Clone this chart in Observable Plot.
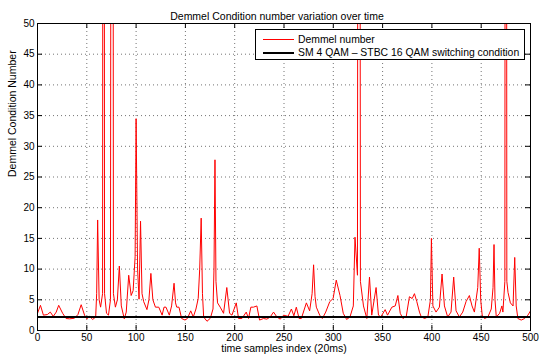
<!DOCTYPE html>
<html><head><meta charset="utf-8">
<script src="https://cdn.jsdelivr.net/npm/d3@7"></script>
<script src="https://cdn.jsdelivr.net/npm/@observablehq/plot@0.6"></script>
<style>
body{margin:0;background:#fff;font-family:"Liberation Sans",Arial,Helvetica,sans-serif;}
#wrap{position:relative;width:539px;height:357px;overflow:hidden;}
#legend{position:absolute;left:255px;top:29px;width:268px;height:29px;border:1px solid #000;background:#fff;font-size:10.4px;color:#000;}
#legend .row{position:absolute;left:0;height:13px;line-height:13px;white-space:nowrap;}
#legend .sw{position:absolute;left:7px;width:31px;}
#legend .tx{position:absolute;left:42px;top:0;}
</style></head><body><div id="wrap"></div>
<script>
// ---- data ----
const sampleIndex = [0,3,6,10,13,16,19,21.5,25.5,29,32.5,37.5,41,44.3,47.7,50,52.7,56,59,60,61,62.5,64,66,67,68,70,72,74,75.8,77,79,81,83,85,88,90,92.5,95,97,99,100,101.5,103,104.5,106,107.7,111,113,115,117,119.6,123,126.4,128.3,130.3,133.7,136,138.5,140,141.2,143.5,146.2,149.6,152,155.4,158,160.7,163,164.5,166,167.3,168.5,171.9,175.3,178,179,180,181,182.6,185.3,188.7,192,194.8,197.2,201.6,203.9,207.3,211.7,214,216.4,219,222.5,225.2,229.2,232.6,236,239.4,242.8,246.2,249.6,254.1,257.5,260,262.5,265.3,267.6,272.7,276,278.5,280,281.5,282.8,286.2,288.9,292.3,296.4,299.8,303,306.8,310.1,313.5,316.9,320.3,322,324.5,326,327.5,330.6,334,336.7,339,343.4,345.8,348.2,352.6,355,359.4,362.8,365.5,367.9,370.6,374,377.2,380,382.3,384.7,387.4,389,392.5,395.9,398.5,399.5,401,404.2,407.6,410.3,412.7,416,419.4,422.1,424.5,427.9,431.3,434.6,438,440.7,443.1,446.5,448,449.5,451,453.4,456.8,460.2,462,463,464,465.3,468.7,471,472,474,475,476,477.2,479.6,482.3,484,485.5,487.2,490.6,494,497.4,500];
const demmelNumber = [2.8,4.1,2.5,2.6,3.0,2.3,3.0,4.1,2.8,1.95,1.9,2.0,2.6,4.2,2.5,1.9,2.3,1.8,2.2,6,18,5,3.8,6,300,6,2.8,2.5,5,300,6,3.8,5,10.5,4,1.9,3,9,5.7,6.5,12,34.5,10,5.1,17.8,6,4.7,3.4,5,9.3,5,3.8,3.8,2.5,3.8,3.8,2.5,4,7.7,4.5,3.8,3.8,1.95,1.7,1.95,3.2,2.2,3.5,5.2,10,18.3,6,2.2,1.5,2.0,3.5,10,27.8,8,4.5,3.8,2.8,7.0,2.8,2.5,4.5,1.95,1.95,3.0,1.95,3.8,3.8,4.0,1.7,1.95,1.85,2.2,3.0,2.2,1.85,2.5,2.3,3.5,2.4,3.8,1.95,1.95,4.5,3.2,6,10.7,5.5,3.8,2.5,1.95,3.0,4.7,5.2,8.2,5.7,2.8,1.8,2.2,4.0,15.2,9,300,8,4.0,1.95,8.7,2.5,7.0,2.5,2.2,3.4,2.5,3.8,4.0,5.7,2.8,1.95,2.3,5.5,5.2,6.0,4.7,3.0,2.3,1.95,2.2,5,15,4,3.0,3.8,9.2,4.0,2.2,3.0,8.7,3.2,2.2,3.0,4.7,5.7,4.0,3.0,7.0,13.4,5,2.5,1.95,2.2,3.5,7,14,5,2.2,2.8,4.0,3.0,8,300,8,6.2,4.5,4.0,11.9,4,1.95,1.7,1.95,2.5,3.2];
const switchingCondition = [2.2];
const xTicks = [0,50,100,150,200,250,300,350,400,450,500];
const yTicks = [0,5,10,15,20,25,30,35,40,45,50];
const titleText = "Demmel Condition number variation over time";
const xLabel = "time samples index (20ms)";
const yLabel = "Demmel Condition Number";
const seriesNames = ["Demmel number", "SM 4 QAM \u2013 STBC 16 QAM switching condition"];

// ---- chart ----
const W = 539, H = 357, mT = 23, mB = 27, mL = 37, mR = 9;
const fh = H - mT - mB, fw = W - mL - mR;
const data = sampleIndex.map((x, i) => ({x, y: demmelNumber[i]}));
const gridStyle = {stroke: "#000", strokeOpacity: 0.55, strokeDasharray: "1,3", strokeWidth: 1};

const chart = Plot.plot({
  width: W, height: H,
  marginTop: mT, marginBottom: mB, marginLeft: mL, marginRight: mR,
  style: {fontFamily: "'Liberation Sans', Arial, sans-serif", fontSize: "10px", background: "#fff", color: "#000"},
  x: {domain: [0, 500]},
  y: {domain: [0, 50]},
  marks: [
    Plot.gridX(xTicks.slice(1, -1), gridStyle),
    Plot.gridY(yTicks.slice(1, -1), gridStyle),
    Plot.line(data, {x: "x", y: "y", stroke: "#ff0000", strokeWidth: 1, clip: true}),
    Plot.ruleY(switchingCondition, {stroke: "#000", strokeWidth: 2}),
    Plot.frame({stroke: "#000", strokeWidth: 1}),
    Plot.tickX(xTicks, {x: d => d, insetTop: fh - 5, stroke: "#000"}),
    Plot.tickX(xTicks, {x: d => d, insetBottom: fh - 5, stroke: "#000"}),
    Plot.tickY(yTicks, {y: d => d, insetRight: fw - 5, stroke: "#000"}),
    Plot.tickY(yTicks, {y: d => d, insetLeft: fw - 5, stroke: "#000"}),
    Plot.axisX({ticks: xTicks, tickSize: 0, tickPadding: 3, label: null, fontSize: 10}),
    Plot.axisY({ticks: yTicks, tickSize: 0, tickPadding: 3, label: null, fontSize: 10}),
    Plot.text([titleText], {text: d => d, frameAnchor: "top", dy: -11, dx: -7, fontSize: 10.5}),
    Plot.text([xLabel], {text: d => d, frameAnchor: "bottom", dy: 21, fontSize: 10.5}),
    Plot.text([yLabel], {text: d => d, frameAnchor: "left", dx: -25, rotate: -90, fontSize: 10.5})
  ]
});
const wrap = document.getElementById("wrap");
wrap.appendChild(chart);

// legend (HTML overlay)
const legend = document.createElement("div");
legend.id = "legend";
const swatches = [{color: "#ff0000", w: 1, top: 3}, {color: "#000", w: 2, top: 16}];
seriesNames.forEach((name, i) => {
  const row = document.createElement("div");
  row.className = "row";
  row.style.top = swatches[i].top + "px";
  row.style.width = "100%";
  const sw = document.createElement("div");
  sw.className = "sw";
  sw.style.top = (6.5 - swatches[i].w / 2) + "px";
  sw.style.height = swatches[i].w + "px";
  sw.style.background = swatches[i].color;
  const tx = document.createElement("div");
  tx.className = "tx";
  tx.textContent = name;
  row.appendChild(sw); row.appendChild(tx);
  legend.appendChild(row);
});
wrap.appendChild(legend);
</script></body></html>
